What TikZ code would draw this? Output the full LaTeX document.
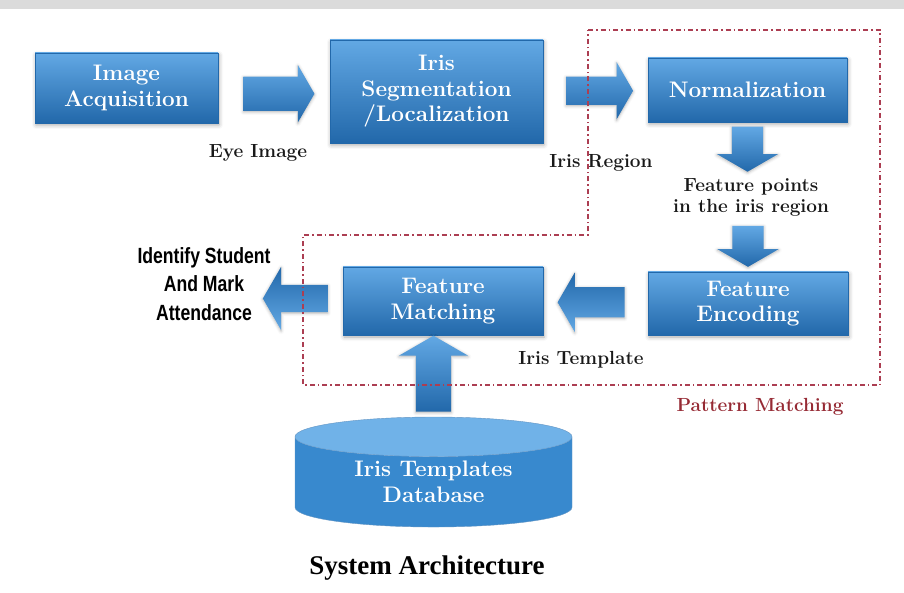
\documentclass[tikz,border=0pt]{standalone}
\usepackage{fontspec}
\newfontfamily\captionfont{Liberation Serif}
\newfontfamily\narrowfont[FakeStretch=0.8]{Liberation Sans}
\usetikzlibrary{shapes.arrows,shapes.geometric,calc,shadows.blur}

\definecolor{boxtop}{RGB}{98,168,228}
\definecolor{boxmid}{RGB}{56,137,206}
\definecolor{boxbot}{RGB}{34,104,170}
\definecolor{dbend}{RGB}{112,178,232}
\definecolor{regionred}{RGB}{172,62,82}
\definecolor{labelred}{RGB}{150,42,52}

\begin{document}
\begin{tikzpicture}[
  x=1pt, y=-1pt,
  stage/.style={rectangle, top color=boxtop, middle color=boxmid, bottom color=boxbot,
    draw=boxbot, text=white, align=center, inner sep=0pt,
    font=\fontsize{22.5}{25.5}\selectfont\bfseries,
    blur shadow={shadow xshift=1pt, shadow yshift=-2pt, shadow opacity=35, shadow blur radius=4pt}},
  flow/.style n args={3}{single arrow, minimum height=#1, inner xsep=0pt, inner ysep=#2,
    single arrow head extend=#3, single arrow tip angle=120,
    top color=boxtop, bottom color=boxbot,
    blur shadow={shadow xshift=0pt, shadow yshift=-1pt, shadow opacity=30, shadow blur radius=3pt}},
  backflow/.style={top color=boxbot, bottom color=boxtop},
  note/.style={align=center, text=black!90, font=\fontsize{19}{21}\selectfont\bfseries},
  region/.style={draw=regionred, line width=1.2pt, dash pattern=on 5pt off 3pt on 1.5pt off 3pt}
]
  \useasboundingbox (0,0) rectangle (904,593);
  \fill[gray!28] (0,0) rectangle (904,9);

  % stages
  \node[stage, minimum width=183, minimum height=70] (acq) at (126.5,88) {Image\\Acquisition};
  \node[stage, minimum width=213, minimum height=103] (seg) at (436.5,91.5) {Iris\\Segmentation\\/Localization};
  \node[stage, minimum width=199, minimum height=64] (norm) at (747.5,90) {Normalization};
  \node[stage, minimum width=200, minimum height=63] (enc) at (748,303.5) {Feature\\Encoding};
  \node[stage, minimum width=200, minimum height=68] (match) at (443,301) {Feature\\Matching};
  \node[cylinder, shape border rotate=90, shape aspect=0.25, minimum width=277, minimum height=110,
    cylinder uses custom fill, cylinder body fill=boxmid, cylinder end fill=dbend,
    draw=boxbot!70, text=white, align=center, inner sep=0pt, font=\fontsize{22.5}{25.5}\selectfont\bfseries]
    (db) at (433.5,482) {Iris Templates\\Database};

  % block arrows
  \node[flow={71}{17}{11.5}] (a1) at ($(acq.east)!0.5!(seg.west)+(0,4)$) {};
  \node[flow={67}{14}{14.5}] (a2) at ($(seg.east)!0.5!(norm.west)$) {};
  \node[flow={45}{15.5}{15}, rotate=270] (a3) at ($(norm.south)+(0,22.5)$) {};
  \node[flow={41}{15.5}{15}, rotate=270] (a4) at ($(enc.north)+(0,-30)$) {};
  \node[flow={67}{15}{14.5}, backflow, rotate=180] (a5) at ($(match.east)!0.5!(enc.west)$) {};
  \node[flow={65}{13.5}{18}, backflow, rotate=180] (a6) at ($(match.west)+(-43.5,-2.5)$) {};
  \node[flow={76}{17.5}{17}, rotate=90] (a7) at ($(db.north)+(0,-38)$) {};

  % labels
  \node[note] (eye) at (258,153) {Eye Image};
  \node[note] (irisreg) at (601,163) {Iris Region};
  \node[note] (points) at (751,197) {Feature points\\in the iris region};
  \node[note] (tmpl) at (581,360) {Iris Template};
  \node[align=center, font=\narrowfont\bfseries\fontsize{22}{28.5}\selectfont] (result) at (204,284)
    {Identify Student\\And Mark\\Attendance};

  % pattern matching region
  \draw[region] (588,30) -| (880,385) -| (303,235) -| cycle;
  \node[text=labelred, font=\fontsize{19}{21}\selectfont\bfseries] (pm) at (760,407) {Pattern Matching};

  \node[font=\captionfont\bfseries\fontsize{27}{30}\selectfont] (title) at (427,568) {System Architecture};
\end{tikzpicture}
\end{document}
